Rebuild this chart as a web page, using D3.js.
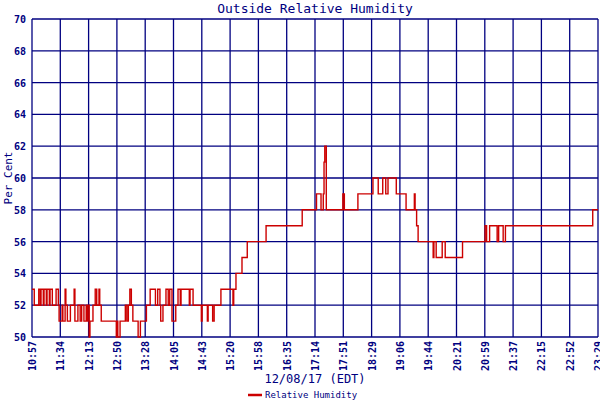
<!DOCTYPE html>
<html><head><meta charset="utf-8">
<script src="https://cdn.jsdelivr.net/npm/d3@7"></script>
<style>body{margin:0;background:#fff}</style></head>
<body><svg id="c" width="600" height="400"></svg>
<script>
const tickLabels=["10:57","11:34","12:13","12:50","13:28","14:05","14:43","15:20","15:58","16:35","17:14","17:51","18:29","19:06","19:44","20:21","20:59","21:37","22:15","22:52","23:29"];
const yTicks=[50,52,54,56,58,60,62,64,66,68,70];
// minutes after 10:57
const minutes=[0,3,9,11,12,15,16,19,20,23,24,27,32,35,36,40,41,44,45,47,51,56,57,61,64,66,69,72,73,74,76,77,81,84,86,89,90,92,109,112,113,114,117,124,126,128,130,132,134,141,144,152,157,164,167,170,171,174,178,181,183,186,191,194,197,198,209,210,214,225,226,233,234,240,242,251,267,268,271,279,286,311,359,378,384,387,388,389,391,413,415,433,453,460,466,470,473,484,497,508,509,511,513,533,534,537,545,549,572,602,604,608,618,620,626,629,745,752];
const humidity=[53,52,53,52,53,52,53,52,53,52,53,52,53,52,51,52,51,53,52,51,52,53,51,52,51,52,51,52,51,52,50,51,52,53,52,53,52,51,51,50,51,50,51,52,51,52,53,52,51,50,51,52,53,52,53,52,51,52,53,52,53,51,52,53,52,53,52,53,52,51,52,51,52,51,52,53,52,53,54,55,56,57,58,59,58,59,61,62,58,59,58,59,60,59,60,59,60,59,58,59,58,57,56,55,56,55,56,55,56,57,56,57,56,57,56,57,58,58];
const navy="#000080";
const svg=d3.select("#c");
const L=32,R=598,T=19,B=337;
const x=d3.scaleLinear().domain([0,752]).range([L,R]);
const y=d3.scaleLinear().domain([50,70]).range([B,T]);
const tickPos=tickLabels.map((t,i)=>i*752/20);
const g=svg.append("g");
g.selectAll(".v").data(tickPos).join("line").attr("x1",d=>x(d)).attr("x2",d=>x(d)).attr("y1",T).attr("y2",B).attr("stroke",navy).attr("stroke-width",1.3);
g.selectAll(".h").data(yTicks).join("line").attr("x1",L).attr("x2",R).attr("y1",d=>y(d)).attr("y2",d=>y(d)).attr("stroke",navy).attr("stroke-width",1.3);
const font="'DejaVu Sans Mono', monospace";
svg.selectAll(".yl").data(yTicks).join("text").attr("x",26).attr("y",d=>y(d)+4).attr("text-anchor","end").attr("font-family",font).attr("font-size",10).attr("font-weight","bold").attr("fill",navy).text(d=>d);
svg.selectAll(".xl").data(tickPos).join("text").attr("transform",(d,i)=>`translate(${x(d)+4},341) rotate(-90)`).attr("text-anchor","end").attr("font-family",font).attr("font-size",10).attr("font-weight","bold").attr("fill",navy).text((d,i)=>tickLabels[i]);
const pts=minutes.map((m,i)=>[m,humidity[i]]);
svg.append("path").datum(pts).attr("fill","none").attr("stroke","#cc0000").attr("stroke-width",1.4)
 .attr("d",d3.line().x(d=>x(d[0])).y(d=>y(d[1])).curve(d3.curveStepAfter));
svg.append("text").attr("x",315).attr("y",13).attr("text-anchor","middle").attr("font-family",font).attr("font-size",13).attr("fill",navy).text("Outside Relative Humidity");
svg.append("text").attr("x",315).attr("y",383).attr("text-anchor","middle").attr("font-family",font).attr("font-size",12).attr("fill",navy).text("12/08/17 (EDT)");
svg.append("text").attr("transform","translate(12,178) rotate(-90)").attr("text-anchor","middle").attr("font-family",font).attr("font-size",11).attr("fill",navy).text("Per Cent");
svg.append("line").attr("x1",248).attr("x2",262).attr("y1",395).attr("y2",395).attr("stroke","#cc0000").attr("stroke-width",2.5);
svg.append("text").attr("x",265).attr("y",398).attr("font-family",font).attr("font-size",9).attr("fill",navy).text("Relative Humidity");
</script></body></html>
